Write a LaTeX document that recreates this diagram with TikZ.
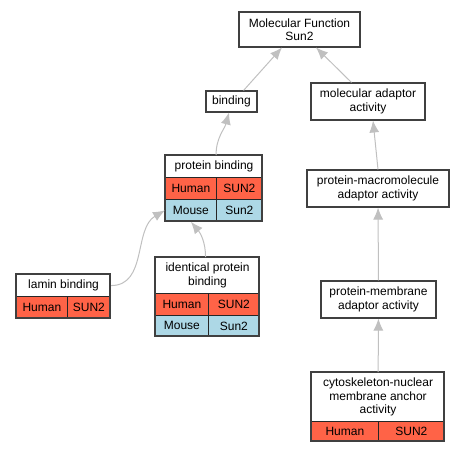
\documentclass[tikz,border=0pt]{standalone}
\usepackage{fontspec}
\setmainfont{Liberation Sans}
\usetikzlibrary{arrows.meta, positioning}
\definecolor{humred}{RGB}{255,99,71}
\definecolor{mouseblue}{RGB}{173,216,230}
\definecolor{edgegray}{RGB}{192,192,192}
\tikzset{
  term/.style={draw=black!75, line width=1.1pt, fill=white, align=center, inner sep=1pt, font=\fontsize{12}{13.5}\selectfont},
  cell/.style={draw=black!85, line width=0.8pt, anchor=north west, inner sep=0pt, minimum height=22, font=\fontsize{12}{13.5}\selectfont},
  human/.style={cell, fill=humred},
  mouse/.style={cell, fill=mouseblue},
  isa/.style={draw=edgegray, line width=1pt, -{Latex[length=12pt, width=10pt]}}
}
\begin{document}
\begin{tikzpicture}[x=1pt, y=-1pt]
			\useasboundingbox (0,0) rectangle (465,453);
			%top
			\node[term, minimum width=121, minimum height=35] (mf) at (299.5,29.5) {Molecular Function\\Sun2};
			\node[term, minimum width=51, minimum height=21] (bind) at (231.5,101.5) {binding};
			\node[term, minimum width=114, minimum height=37] (mad) at (368,101.5) {molecular adaptor\\activity};
			%protein binding table
			\node[term, minimum width=97, minimum height=22, anchor=north west] (pb) at (165,155) {protein binding};
			\node[human, minimum width=51] (pbh1) at (165,177) {Human};
			\node[human, minimum width=46] (pbh2) at (216,177) {SUN2};
			\node[mouse, minimum width=51] (pbm1) at (165,199) {Mouse};
			\node[mouse, minimum width=46] (pbm2) at (216,199) {Sun2};
			\draw[black!75, line width=1.1pt] (165,155) rectangle (262,221);
			%right column
			\node[term, minimum width=142, minimum height=37] (pmad) at (378,188.5) {protein-macromolecule\\adaptor activity};
			\node[term, minimum width=115, minimum height=37] (pmemb) at (378.5,299.5) {protein-membrane\\adaptor activity};
			\node[term, minimum width=133, minimum height=49, anchor=north west] (cyto) at (311,372) {cytoskeleton-nuclear\\membrane anchor\\activity};
			\node[human, minimum width=67, minimum height=20] (cyh1) at (311,421) {Human};
			\node[human, minimum width=66, minimum height=20] (cyh2) at (378,421) {SUN2};
			\draw[black!75, line width=1.1pt] (311,372) rectangle (444,441);
			%lamin binding table
			\node[term, minimum width=94, minimum height=22, anchor=north west] (lam) at (16,274) {lamin binding};
			\node[human, minimum width=51] (lamh1) at (16,296) {Human};
			\node[human, minimum width=43] (lamh2) at (67,296) {SUN2};
			\draw[black!75, line width=1.1pt] (16,274) rectangle (110,318);
			%identical protein binding table
			\node[term, minimum width=104, minimum height=36, anchor=north west] (ipb) at (155,257) {identical protein\\binding};
			\node[human, minimum width=53] (ipbh1) at (155,293) {Human};
			\node[human, minimum width=51] (ipbh2) at (208,293) {SUN2};
			\node[mouse, minimum width=53, minimum height=21] (ipbm1) at (155,315) {Mouse};
			\node[mouse, minimum width=51, minimum height=21] (ipbm2) at (208,315) {Sun2};
			\draw[black!75, line width=1.1pt] (155,257) rectangle (259,336);
			%edges
			\draw[isa] (bind.north east) ++(-14,0) -- (282,47.5);
			\draw[isa] (mad.north west) ++(41,0) -- (316,47.5);
			\draw[isa] (pb.north) ++(2,0) to[out=90, in=-105] (229,112.5);
			\draw[isa] (pmad.north) -- (373,120.5);
			\draw[isa] (pmemb) -- (pmad);
			\draw[isa] (cyto) -- (pmemb);
			\draw[isa] (lam.east) to[out=0, in=210] (pbm1.west);
			\draw[isa] (ipb.north) ++(-2,0) to[out=90, in=-50] (pbm1.south);
\end{tikzpicture}
\end{document}
